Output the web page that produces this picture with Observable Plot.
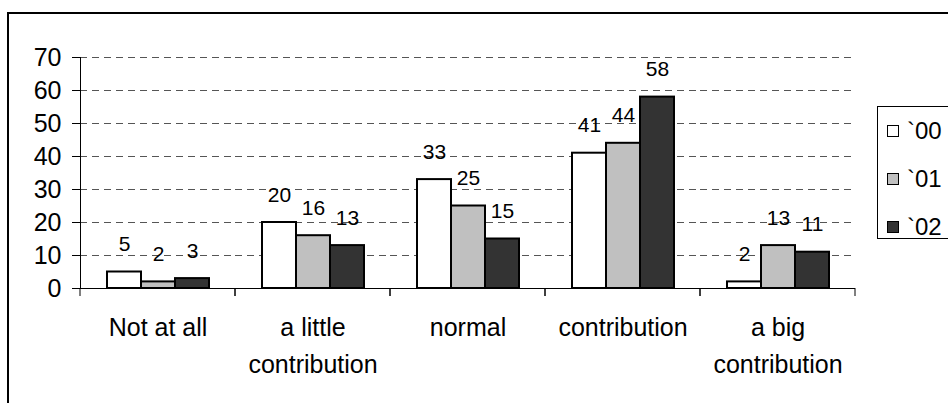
<!DOCTYPE html>
<html>
<head>
<meta charset="utf-8">
<script src="https://cdn.jsdelivr.net/npm/d3@7"></script>
<script src="https://cdn.jsdelivr.net/npm/@observablehq/plot@0.6"></script>
<style>
  html, body { margin: 0; padding: 0; background: #fff; overflow: hidden; }
  #wrap { position: relative; width: 948px; height: 403px; overflow: hidden; font-family: "Liberation Sans", Arial, sans-serif; }
  #border { position: absolute; left: 7px; top: 12px; width: 1000px; height: 500px; border: 2px solid #000; box-sizing: border-box; }
  #chart { position: absolute; left: 0; top: 0; }
  #legend { position: absolute; left: 877px; top: 106px; width: 90px; height: 133px; border: 1px solid #000; box-sizing: border-box; background: #fff; }
  .item { position: absolute; left: 0; height: 30px; display: flex; align-items: center; font-size: 24px; color: #000; }
  .sw { width: 12px; height: 12px; border: 1.5px solid #000; box-sizing: border-box; margin-left: 9px; margin-right: 8px; }
</style>
</head>
<body>
<div id="wrap">
  <div id="border"></div>
  <div id="chart"></div>
  <div id="legend"></div>
</div>
<script>
const categories = ["Not at all", "a little contribution", "normal", "contribution", "a big contribution"];
const categoryLabels = ["Not at all", "a little\ncontribution", "normal", "contribution", "a big\ncontribution"];
const series = ["`00", "`01", "`02"];
const values00 = [5, 20, 33, 41, 2];
const values01 = [2, 16, 25, 44, 13];
const values02 = [3, 13, 15, 58, 11];
const yTicks = [0, 10, 20, 30, 40, 50, 60, 70];
const colors = ["#ffffff", "#c0c0c0", "#333333"];

const seriesValues = [values00, values01, values02];
const data = [];
categories.forEach((c, i) => {
  series.forEach((s, j) => data.push({category: c, series: s, value: seriesValues[j][i]}));
});
const labelOf = new Map(categories.map((c, i) => [c, categoryLabels[i]]));

function boundaryTicks(index, scales, values, dimensions) {
  const y0 = scales.y(0);
  const g = d3.create("svg:g").attr("stroke", "#000").attr("stroke-width", 1);
  for (const x of [dimensions.marginLeft, dimensions.width - dimensions.marginRight]) {
    g.append("line").attr("x1", x).attr("x2", x).attr("y1", y0).attr("y2", y0 + 8);
  }
  return g.node();
}

const chart = Plot.plot({
  width: 948,
  height: 403,
  marginLeft: 80,
  marginRight: 93,
  marginTop: 57,
  marginBottom: 115,
  style: {fontFamily: "'Liberation Sans', Arial, sans-serif", fontSize: "25px", background: "transparent", color: "#000", overflow: "visible"},
  fx: {domain: categories, paddingInner: 0, paddingOuter: 0, label: null},
  x: {domain: series, paddingInner: 0, paddingOuter: 0.75, axis: null},
  y: {domain: [0, 70], label: null},
  color: {domain: series, range: colors},
  marks: [
    Plot.gridY(yTicks.filter(d => d > 0), {stroke: "#555", strokeOpacity: 1, strokeWidth: 1, strokeDasharray: "7,5"}),
    Plot.barY(data, {fx: "category", x: "series", y: "value", fill: "series", stroke: "#000", strokeWidth: 2}),
    Plot.text(data, {fx: "category", x: "series", y: "value", text: d => String(d.value), lineAnchor: "bottom", dy: -21, fontSize: 21, fill: "#000"}),
    Plot.ruleY([0], {stroke: "#000", strokeWidth: 1}),
    boundaryTicks,
    Plot.frame({anchor: "left", facetAnchor: "left", stroke: "#000", strokeWidth: 1}),
    Plot.axisY({ticks: yTicks, tickSize: 8, tickPadding: 11, fontSize: 25, label: null, stroke: "#000", fill: "#000"}),
    Plot.axisFx({anchor: "bottom", tickSize: 0, tickPadding: 22, fontSize: 25, lineHeight: 1.46, label: null, tickFormat: d => labelOf.get(d), fill: "#000"})
  ]
});
document.getElementById("chart").appendChild(chart);

const legend = document.getElementById("legend");
series.forEach((s, i) => {
  const item = document.createElement("div");
  item.className = "item";
  item.style.top = (8.5 + 48 * i) + "px";
  const sw = document.createElement("div");
  sw.className = "sw";
  sw.style.background = colors[i];
  const t = document.createElement("span");
  t.textContent = s;
  item.appendChild(sw);
  item.appendChild(t);
  legend.appendChild(item);
});
</script>
</body>
</html>
